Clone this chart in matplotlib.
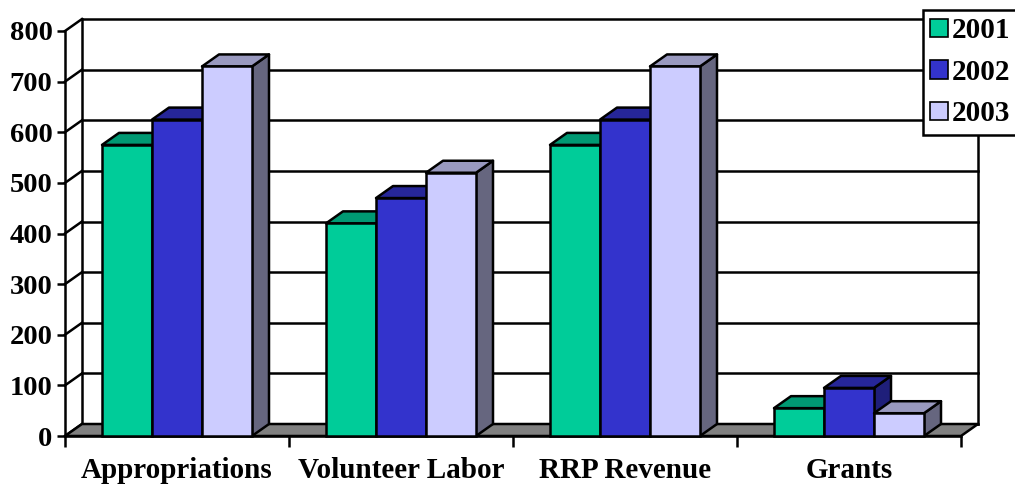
import matplotlib
matplotlib.use("Agg")
import matplotlib.pyplot as plt
from matplotlib.patches import Polygon, Patch

categories = ["Appropriations", "Volunteer Labor", "RRP Revenue", "Grants"]
years = ["2001", "2002", "2003"]
values_2001 = [575, 420, 575, 55]
values_2002 = [625, 470, 625, 95]
values_2003 = [730, 520, 730, 45]
yticks = [0, 100, 200, 300, 400, 500, 600, 700, 800]

front_colors = ["#00CC99", "#3333CC", "#CCCCFF"]
top_colors = ["#009973", "#262699", "#9999BF"]
side_colors = ["#006B50", "#1F1F7A", "#66667F"]

W, H = 1015, 484
fig = plt.figure(figsize=(W / 100, H / 100), dpi=100)
left_px, right_px, zero_px, top_px = 65, 961, 436, 31
ax = fig.add_axes([left_px / W, (H - zero_px) / H, (right_px - left_px) / W, (zero_px - top_px) / H])
ncat = len(categories)
ymax = yticks[-1]
ax.set_xlim(0, ncat)
ax.set_ylim(0, ymax)
ax.patch.set_alpha(0)

# depth offset in data units
px_x = (right_px - left_px) / ncat
px_y = (zero_px - top_px) / ymax
dx = 17 / px_x
dy = 12 / px_y
lw = 1.8

# back wall
ax.add_patch(Polygon([(dx, dy), (ncat + dx, dy), (ncat + dx, ymax + dy), (dx, ymax + dy)],
                     closed=True, facecolor="white", edgecolor="none", zorder=0.5, clip_on=False))
for v in yticks:
    ax.plot([dx, ncat + dx], [v + dy, v + dy], color="black", lw=lw, zorder=0.6, clip_on=False,
            solid_capstyle="projecting")
    ax.plot([0, dx], [v, v + dy], color="black", lw=lw, zorder=0.6, clip_on=False)
ax.plot([dx, dx], [dy, ymax + dy], color="black", lw=lw, zorder=0.6, clip_on=False)
ax.plot([ncat + dx, ncat + dx], [dy, ymax + dy], color="black", lw=lw, zorder=0.6, clip_on=False)

# floor
ax.add_patch(Polygon([(0, 0), (ncat, 0), (ncat + dx, dy), (dx, dy)], closed=True,
                     facecolor="#808080", edgecolor="black", lw=lw, zorder=0.7, clip_on=False))

# bars
bw = 50 / px_x
series = [values_2001, values_2002, values_2003]
z = 3
for i in range(ncat):
    for j, vals in enumerate(series):
        v = vals[i]
        x0 = i + 0.5 - 1.5 * bw + j * bw
        x1 = x0 + bw
        ax.add_patch(Polygon([(x1, 0), (x1 + dx, dy), (x1 + dx, v + dy), (x1, v)], closed=True,
                             facecolor=side_colors[j], edgecolor="black", lw=lw, zorder=z, clip_on=False,
                             joinstyle="round"))
        ax.add_patch(Polygon([(x0, v), (x1, v), (x1 + dx, v + dy), (x0 + dx, v + dy)], closed=True,
                             facecolor=top_colors[j], edgecolor="black", lw=lw, zorder=z, clip_on=False,
                             joinstyle="round"))
        ax.bar(x0, v, width=bw, align="edge", color=front_colors[j], edgecolor="black",
               linewidth=lw, zorder=z + 0.1, clip_on=False)
        z += 0.2

# axes / ticks
for s in ["top", "right"]:
    ax.spines[s].set_visible(False)
ax.spines["left"].set_linewidth(lw)
ax.spines["bottom"].set_linewidth(lw)
ax.spines["left"].set_zorder(1)
ax.spines["bottom"].set_zorder(2)

yfont = dict(family="Liberation Serif", weight="bold", size=20.5)
xfont = dict(family="Liberation Serif", weight="bold", size=21)
ax.set_yticks(yticks)
ax.set_yticklabels([str(t) for t in yticks], fontdict=yfont)
ax.tick_params(axis="y", direction="out", length=6, width=lw, pad=3)
ax.set_xticks(range(ncat + 1))
ax.set_xticklabels([])
ax.tick_params(axis="x", which="major", direction="out", length=8, width=lw)
ax.set_xticks([i + 0.5 for i in range(ncat)], minor=True)
ax.set_xticklabels(categories, minor=True, fontdict=xfont)
ax.tick_params(axis="x", which="minor", length=0, pad=15)
# first label sits slightly left in the reference
ax.get_xticklabels(minor=True)[0].set_x(0.5 - 7 / px_x)

handles = [Patch(facecolor=c, edgecolor="black", lw=1.2) for c in front_colors]
leg = fig.legend(handles, years, loc="upper left", bbox_to_anchor=(923 / W, 1 - 10 / H),
                 borderaxespad=0, prop=dict(family="Liberation Serif", weight="bold", size=21),
                 handlelength=0.6, handleheight=0.6, handletextpad=0.15, labelspacing=0.5,
                 borderpad=0.25, fancybox=False, framealpha=1, edgecolor="black")
leg.get_frame().set_linewidth(lw)
leg.set_zorder(10)

fig.savefig("out.png", dpi=100)
